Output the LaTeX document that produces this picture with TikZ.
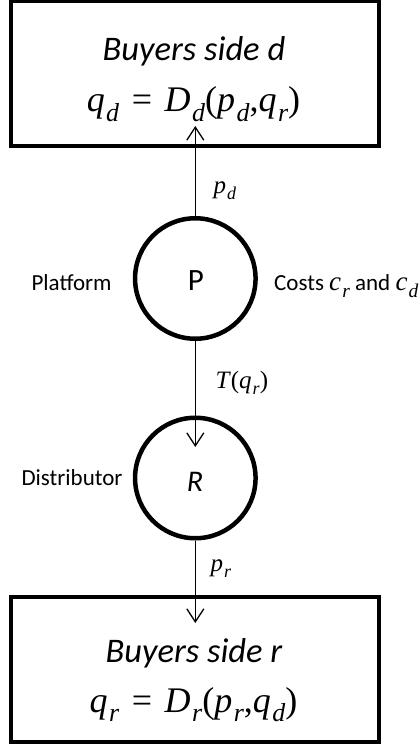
\documentclass[tikz,border=0pt]{standalone}
\usepackage{fontspec}
\usepackage{graphicx}
\setmainfont{Carlito}
\newfontfamily\tms{Liberation Serif}
\usetikzlibrary{arrows.meta}
% italic variable with a lowered italic subscript, set in the serif family
\newcommand\vr[2]{\textit{#1}\kern0.04em\raisebox{-0.26em}{\scalebox{0.72}{\textit{#2}}}}
% relation sign with a little extra room on both sides
\newcommand\eqsign{\kern0.1em=\kern0.1em}
\tikzset{
  sidebox/.style={draw, line width=4pt, minimum width=368.5pt, minimum height=145pt, inner sep=0pt},
  agent/.style={draw, circle, line width=4.5pt, minimum size=120.5pt, inner sep=0pt},
  flow/.style={line width=1.3pt, -{Straight Barb[length=13pt,width=17pt]}},
  title/.style={anchor=base, font=\fontsize{34.5}{40}\selectfont\itshape},
  eqn/.style={anchor=base, font=\tms\fontsize{36}{42}\selectfont},
  side/.style={anchor=base west, font=\fontsize{23}{27}\selectfont},
  price/.style={anchor=base west, font=\tms\fontsize{25}{30}\selectfont},
  letter/.style={anchor=base, font=\fontsize{31}{36}\selectfont},
}
\begin{document}
\begin{tikzpicture}[x=1pt,y=-1pt]
  \useasboundingbox (0,0) rectangle (419,749);

  % buyers on both sides
  \node[sidebox] (dbox) at (194.75,73.5) {};
  \node[title] (dtitle) at (194,61) {Buyers side d};
  \node[eqn] (deq) at (193.5,112) {\vr{q}{d} \eqsign{} \vr{D}{d}(\vr{p}{d},\vr{q}{r})};

  \node[sidebox] (rbox) at (194.75,669.75) {};
  \node[title] (rtitle) at (194,662) {Buyers side r};
  \node[eqn] (req) at (193.5,712) {\vr{q}{r} \eqsign{} \vr{D}{r}(\vr{p}{r},\vr{q}{d})};

  % platform and distributor
  \node[agent] (P) at (195.3,278.5) {};
  \node[letter] (Plabel) at (196,290) {P};
  \node[agent] (R) at (195.3,478) {};
  \node[letter, font=\fontsize{30}{36}\selectfont\itshape] (Rlabel) at (195,491) {R};

  \node[side] (platform) at (28,290) {Platform};
  \node[side, inner xsep=0pt] (costs) at (274,290)
    {Costs {\tms\fontsize{27}{32}\selectfont\vr{c}{r}} and {\tms\fontsize{27}{32}\selectfont\vr{c}{d}}};
  \node[side] (distributor) at (18,485) {Distributor};

  % flows between the parties
  \coordinate (dtip) at (195.3,126);
  \coordinate (rtip) at (195.3,447);
  \coordinate (btip) at (195.3,623);
  \draw[flow] (P.north) -- (dtip);
  \draw[flow] (P.south) -- (rtip);
  \draw[flow] (R.south) -- (btip);

  \node[price] (pd) at (210,193) {\vr{p}{d}};
  \node[price] (T) at (212,388) {\textit{T}(\vr{q}{r})};
  \node[price] (pr) at (207,571) {\vr{p}{r}};
\end{tikzpicture}
\end{document}
